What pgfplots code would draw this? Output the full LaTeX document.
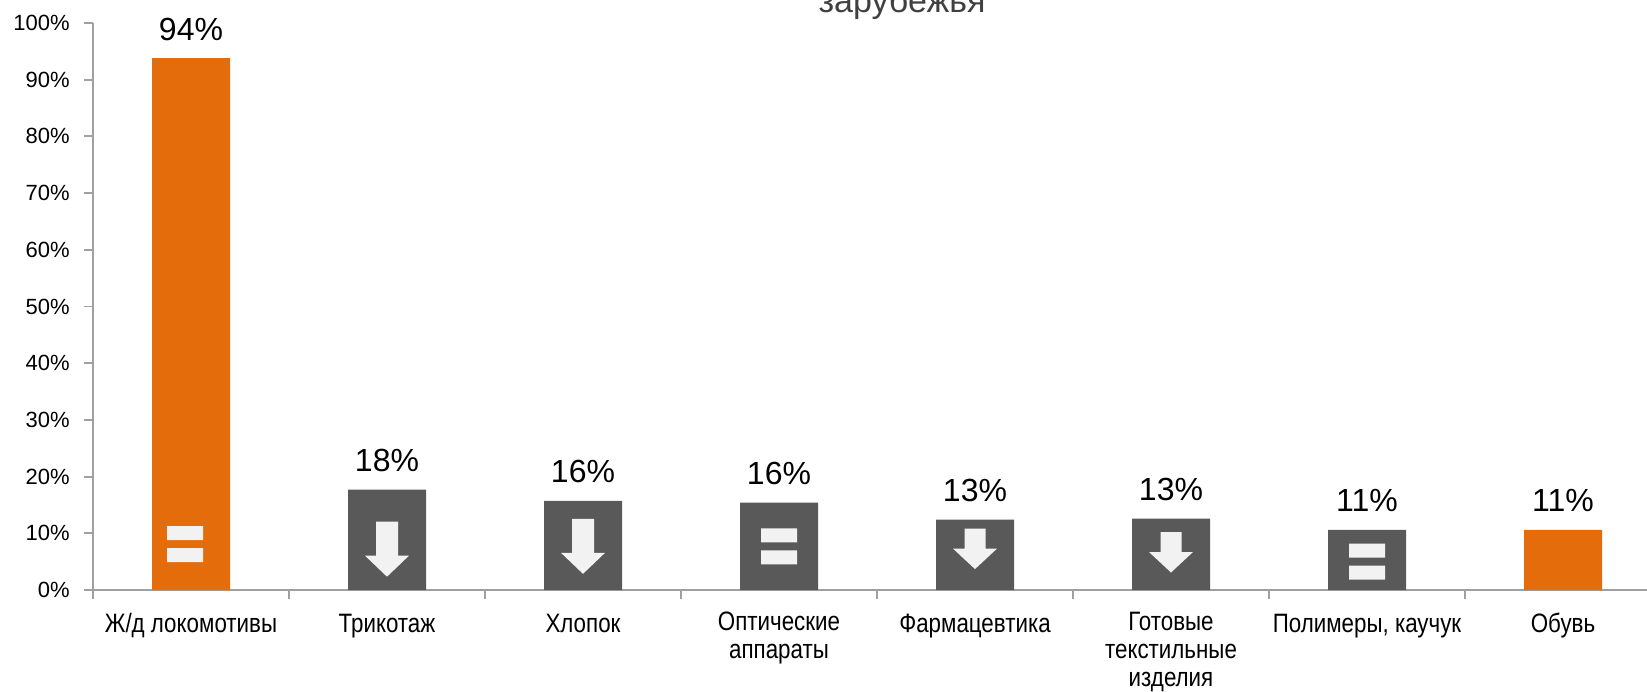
\documentclass[border=0pt]{standalone}
\usepackage{fontspec}
\setmainfont{Liberation Sans}
\newfontfamily\narrowfont{Liberation Sans}[FakeStretch=0.84]
\usepackage{pgfplots}
\pgfplotsset{compat=1.18}
\usepackage{pgfplotstable}

\definecolor{barorange}{HTML}{E46C0A}
\definecolor{bargray}{HTML}{595959}
\definecolor{iconfill}{HTML}{F2F2F2}
\definecolor{axisgray}{HTML}{A0A0A0}
\definecolor{titlegray}{HTML}{404040}

\pgfdeclareplotmark{eqicon}{%
  \pgfpathrectangle{\pgfpoint{-9pt}{2pt}}{\pgfpoint{18pt}{7pt}}%
  \pgfpathrectangle{\pgfpoint{-9pt}{-9pt}}{\pgfpoint{18pt}{7pt}}%
  \pgfusepathqfill}
\pgfdeclareplotmark{eqiconleft}{%
  \pgfpathrectangle{\pgfpoint{-12pt}{2pt}}{\pgfpoint{18pt}{7pt}}%
  \pgfpathrectangle{\pgfpoint{-12pt}{-9pt}}{\pgfpoint{18pt}{7pt}}%
  \pgfusepathqfill}
\pgfdeclareplotmark{arrowlong}{%
  \pgfpathmoveto{\pgfpoint{-5.5pt}{13.75pt}}%
  \pgfpathlineto{\pgfpoint{5.5pt}{13.75pt}}%
  \pgfpathlineto{\pgfpoint{5.5pt}{-3.25pt}}%
  \pgfpathlineto{\pgfpoint{11pt}{-3.25pt}}%
  \pgfpathlineto{\pgfpoint{0pt}{-13.75pt}}%
  \pgfpathlineto{\pgfpoint{-11pt}{-3.25pt}}%
  \pgfpathlineto{\pgfpoint{-5.5pt}{-3.25pt}}%
  \pgfpathclose\pgfusepathqfill}
\pgfdeclareplotmark{arrowshort}{%
  \pgfpathmoveto{\pgfpoint{-5.25pt}{10pt}}%
  \pgfpathlineto{\pgfpoint{5.25pt}{10pt}}%
  \pgfpathlineto{\pgfpoint{5.25pt}{0pt}}%
  \pgfpathlineto{\pgfpoint{11pt}{0pt}}%
  \pgfpathlineto{\pgfpoint{0pt}{-10.25pt}}%
  \pgfpathlineto{\pgfpoint{-11pt}{0pt}}%
  \pgfpathlineto{\pgfpoint{-5.25pt}{0pt}}%
  \pgfpathclose\pgfusepathqfill}

\pgfplotstableread{
x y lab
0 93.8 94\%
7 10.6 11\%
}\orangedata
\pgfplotstableread{
x y lab
1 17.7 18\%
2 15.7 16\%
3 15.4 16\%
4 12.4 13\%
5 12.6 13\%
6 10.6 11\%
}\graydata
\pgfplotstableread{
x y
0 8.1
}\eqfirstdata
\pgfplotstableread{
x y
3 7.7
6 5.0
}\eqdata
\pgfplotstableread{
x y
1 7.2
2 7.7
}\arrowlongdata
\pgfplotstableread{
x y
4 7.3
5 6.7
}\arrowshortdata

\begin{document}
\begin{tikzpicture}
\begin{axis}[
  at={(0pt,0pt)}, anchor=south west,
  scale only axis,
  width=784pt, height=283.5pt,
  xmin=-0.5, xmax=7.5,
  ymin=0, ymax=100,
  axis x line*=bottom, axis y line*=left,
  every outer x axis line/.append style={-},
  every outer y axis line/.append style={-},
  every inner x axis line/.append style={-},
  every inner y axis line/.append style={-},
  axis line style={draw=axisgray, line width=0.9pt},
  tick style={draw=axisgray, line width=0.9pt},
  tick align=outside,
  major tick length=4.5pt,
  ytick={0,10,...,100},
  yticklabel={\pgfmathprintnumber{\tick}\%},
  /pgf/number format/assume math mode=true,
  yticklabel style={font=\fontsize{11}{13}\selectfont, anchor=east, inner sep=0pt, xshift=-7pt},
  xtick={-0.5,0.5,...,7.5},
  xticklabels={},
  extra x ticks={0,1,2,3,4,5,6,7},
  extra x tick labels={Ж/д локомотивы, Трикотаж, Хлопок, {Оптические\\аппараты}, Фармацевтика, {Готовые\\текстильные\\изделия}, {Полимеры, каучук}, Обувь},
  extra x tick style={tick style={draw=none},
    xticklabel style={font=\narrowfont\fontsize{13.3}{14}\selectfont, align=center, anchor=north, inner sep=0pt,
      yshift=-6.5pt, execute at begin node={\rule{0pt}{10pt}}}},
  ybar, bar width=39pt, bar shift=0pt,
  clip=false,
]
\addplot[fill=barorange, draw=none,
  point meta=explicit symbolic,
  nodes near coords,
  every node near coord/.append style={font=\fontsize{16}{18}\selectfont, anchor=base, inner sep=0pt, yshift=9pt, text=black}]
  table[x=x, y=y, meta=lab]{\orangedata};
\addplot[fill=bargray, draw=none,
  point meta=explicit symbolic,
  nodes near coords,
  every node near coord/.append style={font=\fontsize{16}{18}\selectfont, anchor=base, inner sep=0pt, yshift=9pt, text=black}]
  table[x=x, y=y, meta=lab]{\graydata};
\addplot[only marks, mark=eqiconleft, mark options={fill=iconfill, draw=none}] table[x=x, y=y]{\eqfirstdata};
\addplot[only marks, mark=eqicon, mark options={fill=iconfill, draw=none}] table[x=x, y=y]{\eqdata};
\addplot[only marks, mark=arrowlong, mark options={fill=iconfill, draw=none}] table[x=x, y=y]{\arrowlongdata};
\addplot[only marks, mark=arrowshort, mark options={fill=iconfill, draw=none}] table[x=x, y=y]{\arrowshortdata};
\end{axis}
\node[anchor=base, inner sep=0pt, text=titlegray, font=\fontsize{17}{19}\selectfont] at (404.5pt,288.5pt) {зарубежья};
\pgfresetboundingbox
\useasboundingbox (-46.5pt,-50.5pt) rectangle (777pt,295pt);
\end{tikzpicture}
\end{document}
